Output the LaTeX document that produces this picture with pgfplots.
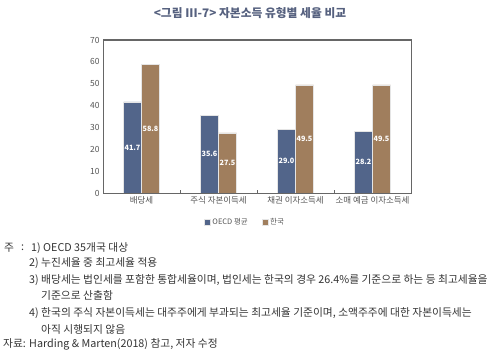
\documentclass[border=0pt]{standalone}
\usepackage{pgfplots}
\pgfplotsset{compat=1.18}
\usepackage{fontspec}
\setmainfont{Noto Sans CJK KR}
\definecolor{oecd}{HTML}{52658A}
\definecolor{kor}{HTML}{A07E5D}
\definecolor{ttl}{HTML}{56617F}
\definecolor{tk}{HTML}{555555}
\definecolor{axl}{HTML}{666666}
\definecolor{nt}{HTML}{333333}
\pgfplotsset{sqleg/.style={legend image code/.code={\fill[##1] (0bp,-3bp) rectangle (6bp,3bp);}}}
\begin{document}
\begin{tikzpicture}[x=1bp,y=1bp]
\useasboundingbox (0,0) rectangle (490,356);
\node[font=\fontsize{11.8}{13}\selectfont\bfseries, text=ttl] at (250,343) {<그림 III-7> 자본소득 유형별 세율 비교};
\begin{axis}[at={(103bp,163bp)}, anchor=south west, scale only axis, width=308bp, height=153bp,
  axis lines=box,
  xmin=-0.5, xmax=3.5, ymin=0, ymax=70, ytick={0,10,...,70},
  xtick={0.5,1.5,2.5}, xticklabels={},
  extra x ticks={0,1,2,3},
  extra x tick labels={배당세, 주식 자본이득세, 채권 이자소득세, 소매 예금 이자소득세},
  extra x tick style={major tick length=0pt, grid=none},
  tick align=inside, xtick pos=lower, major tick length=3bp,
  ytick style={draw=none}, xtick style={axl},
  axis line style={axl, line width=1bp},
  tick label style={font=\fontsize{8.5}{10}\selectfont, text=tk},
  /pgf/number format/assume math mode=true,
  legend style={at={(0.461,-0.19)}, anchor=center, draw=none, fill=none,
    font=\fontsize{7.5}{9}\selectfont, text=tk, legend columns=2,
    /tikz/every even column/.append style={column sep=12bp}},
]
\addplot[ybar, bar width=18bp, bar shift=-9bp, fill=oecd, draw=white!80!gray, line width=0.5bp, sqleg]
  coordinates {(0,41.7) (1,35.6) (2,29.0) (3,28.2)};
\addlegendentry{OECD 평균}
\addplot[ybar, bar width=18bp, bar shift=9bp, fill=kor, draw=white!80!gray, line width=0.5bp, sqleg]
  coordinates {(0,58.8) (1,27.5) (2,49.5) (3,49.5)};
\addlegendentry{한국}
\addplot[draw=none, mark=none, forget plot, nodes near coords, point meta=explicit symbolic,
  every node near coord/.append style={font=\fontsize{7.3}{8}\selectfont\bfseries, text=white, anchor=center, xshift=-9bp}]
  coordinates {(0,20.85)[41.7] (1,17.8)[35.6] (2,14.5)[29.0] (3,14.1)[28.2]};
\addplot[draw=none, mark=none, forget plot, nodes near coords, point meta=explicit symbolic,
  every node near coord/.append style={font=\fontsize{7.3}{8}\selectfont\bfseries, text=white, anchor=center, xshift=9bp}]
  coordinates {(0,29.4)[58.8] (1,13.75)[27.5] (2,24.75)[49.5] (3,24.75)[49.5]};
\end{axis}
\draw[axl, line width=1bp] (103,163) rectangle (411,316);
\begin{scope}[every node/.style={anchor=west, inner sep=0pt, font=\fontsize{10.8}{12}\selectfont, text=nt}]
\node at (4,108) {주};
\node at (21,108) {:};
\node at (31,108) {1) OECD 35개국 대상};
\node at (29,93) {2) 누진세율 중 최고세율 적용};
\node at (29,76) {3) 배당세는 법인세를 포함한 통합세율이며, 법인세는 한국의 경우 26.4\%를 기준으로 하는 등 최고세율을};
\node at (41,61) {기준으로 산출함};
\node at (29,43) {4) 한국의 주식 자본이득세는 대주주에게 부과되는 최고세율 기준이며, 소액주주에 대한 자본이득세는};
\node at (41,27) {아직 시행되지 않음};
\node at (3,12) {자료: Harding \& Marten(2018) 참고, 저자 수정};
\end{scope}
\end{tikzpicture}
\end{document}
